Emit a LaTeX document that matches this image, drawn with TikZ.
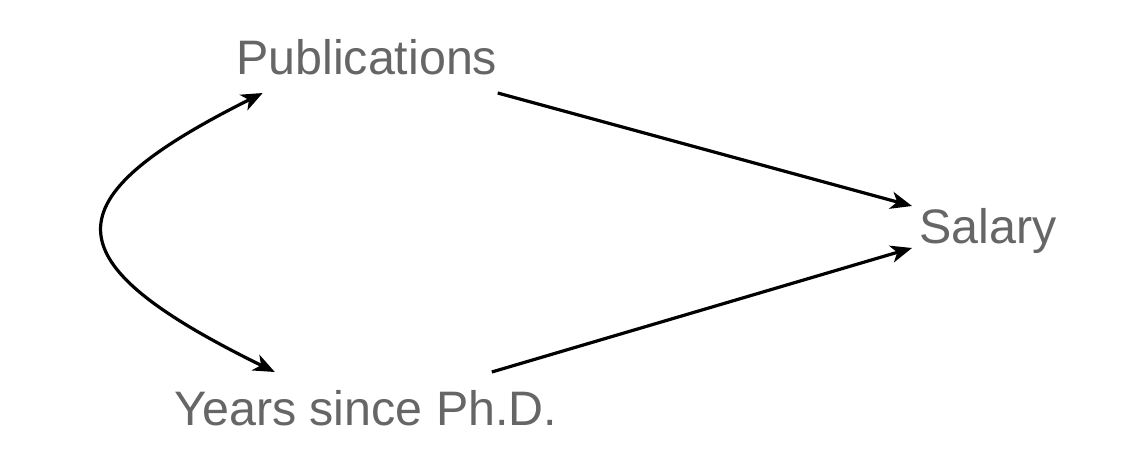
\documentclass[tikz,border=0pt]{standalone}
\usepackage{fontspec}
\setmainfont{Liberation Sans}
\usetikzlibrary{arrows.meta}
\definecolor{txtgray}{HTML}{666666}
\begin{document}
\begin{tikzpicture}[x=0.75pt,y=-0.75pt,
  lbl/.style={inner sep=0pt,anchor=base,text=txtgray,font=\fontsize{36.3pt}{44pt}\selectfont},
  tip/.style={Stealth[length=16pt,width=13pt,inset=4.5pt]},
  arr/.style={line width=2.4pt,-{Stealth[length=16pt,width=13pt,inset=4.5pt]}},
  darr/.style={line width=2.4pt,{Stealth[length=16pt,width=13pt,inset=4.5pt]}-{Stealth[length=16pt,width=13pt,inset=4.5pt]}}]
\useasboundingbox[fill=white] (0,0) rectangle (1144,474);
\node[lbl] (pub) at (366.7,75) {Publications};
\node[lbl] (yrs) at (365.8,425) {Years since Ph.D.};
\node[lbl] (sal) at (988,243) {Salary};
\draw[arr] ([shift={(131,18)}]pub.base) -- ([shift={(-76,-37)}]sal.base);
\draw[arr] ([shift={(126,-53)}]yrs.base) -- ([shift={(-76,5)}]sal.base);
\draw[darr] ([shift={(-104,18)}]pub.base) .. controls +(-214,107) and +(-226,-111) .. ([shift={(-91,-53)}]yrs.base);
\end{tikzpicture}
\end{document}
